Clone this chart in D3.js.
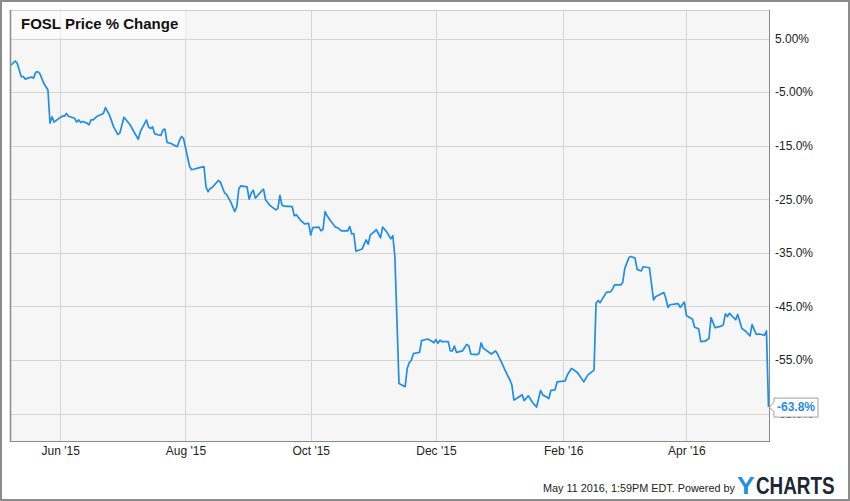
<!DOCTYPE html>
<html><head><meta charset="utf-8">
<script src="https://cdn.jsdelivr.net/npm/d3@7"></script>
<style>body{margin:0;background:#fff}svg{display:block}text{font-family:"Liberation Sans",Arial,sans-serif}</style>
</head><body><svg id="c" width="850" height="501"></svg>
<script>
const dates = [
"2015-05-08","2015-05-10","2015-05-11","2015-05-13","2015-05-14","2015-05-15","2015-05-16","2015-05-18","2015-05-19","2015-05-20",
"2015-05-21","2015-05-22","2015-05-24","2015-05-26","2015-05-27","2015-05-28","2015-05-29","2015-05-31","2015-06-02","2015-06-03",
"2015-06-04","2015-06-05","2015-06-08","2015-06-09","2015-06-10","2015-06-11","2015-06-12","2015-06-14","2015-06-15","2015-06-16",
"2015-06-17","2015-06-19","2015-06-22","2015-06-23","2015-06-25","2015-06-27","2015-06-29","2015-06-30","2015-07-02","2015-07-05",
"2015-07-07","2015-07-09","2015-07-10","2015-07-13","2015-07-14","2015-07-15","2015-07-16","2015-07-17","2015-07-20","2015-07-21",
"2015-07-22","2015-07-23","2015-07-25","2015-07-27","2015-07-28","2015-07-29","2015-07-30","2015-07-31","2015-08-03","2015-08-04",
"2015-08-05","2015-08-07","2015-08-10","2015-08-11","2015-08-12","2015-08-13","2015-08-14","2015-08-17","2015-08-18","2015-08-20",
"2015-08-21","2015-08-23","2015-08-25","2015-08-26","2015-08-27","2015-08-28","2015-08-31","2015-09-01","2015-09-02","2015-09-03",
"2015-09-04","2015-09-08","2015-09-09","2015-09-11","2015-09-14","2015-09-15","2015-09-16","2015-09-17","2015-09-18","2015-09-22",
"2015-09-23","2015-09-24","2015-09-26","2015-09-28","2015-09-30","2015-10-01","2015-10-02","2015-10-05","2015-10-06","2015-10-07",
"2015-10-08","2015-10-09","2015-10-11","2015-10-13","2015-10-14","2015-10-16","2015-10-19","2015-10-20","2015-10-21","2015-10-22",
"2015-10-23","2015-10-26","2015-10-28","2015-10-29","2015-10-30","2015-11-02","2015-11-04","2015-11-05","2015-11-07","2015-11-09",
"2015-11-10","2015-11-11","2015-11-13","2015-11-16","2015-11-17","2015-11-18","2015-11-19","2015-11-20","2015-11-23","2015-11-24",
"2015-11-27","2015-11-29","2015-11-30","2015-12-01","2015-12-02","2015-12-03","2015-12-04","2015-12-07","2015-12-08","2015-12-09",
"2015-12-10","2015-12-11","2015-12-14","2015-12-16","2015-12-17","2015-12-18","2015-12-21","2015-12-22","2015-12-23","2015-12-24",
"2015-12-28","2015-12-30","2015-12-31","2016-01-02","2016-01-04","2016-01-06","2016-01-07","2016-01-08","2016-01-10","2016-01-12",
"2016-01-13","2016-01-15","2016-01-17","2016-01-19","2016-01-21","2016-01-22","2016-01-25","2016-01-26","2016-01-28","2016-01-29",
"2016-02-02","2016-02-03","2016-02-05","2016-02-06","2016-02-08","2016-02-11","2016-02-13","2016-02-14","2016-02-16","2016-02-17",
"2016-02-18","2016-02-19","2016-02-22","2016-02-24","2016-02-25","2016-02-26","2016-02-29","2016-03-01","2016-03-02","2016-03-04",
"2016-03-05","2016-03-07","2016-03-08","2016-03-10","2016-03-11","2016-03-14","2016-03-16","2016-03-17","2016-03-21","2016-03-22",
"2016-03-23","2016-03-24","2016-03-28","2016-03-29","2016-03-31","2016-04-01","2016-04-04","2016-04-05","2016-04-07","2016-04-08",
"2016-04-10","2016-04-12","2016-04-13","2016-04-15","2016-04-18","2016-04-19","2016-04-20","2016-04-21","2016-04-22","2016-04-25",
"2016-04-26","2016-04-28","2016-04-30","2016-05-02","2016-05-03","2016-05-05","2016-05-07","2016-05-09","2016-05-10","2016-05-11"];
const pctChange = [
0.0,0.8,0.4,-2.1,-2.1,-2.6,-2.4,-2.2,-2.4,-1.3,
-1.2,-1.5,-3.4,-4.6,-10.8,-9.6,-10.6,-10.0,-9.5,-9.5,
-9.0,-9.5,-9.9,-10.6,-10.2,-10.7,-10.5,-10.8,-11.1,-10.2,
-10.2,-9.5,-9.0,-7.9,-9.3,-11.5,-12.9,-12.7,-9.7,-11.1,
-12.5,-13.8,-12.4,-10.2,-11.5,-11.8,-11.5,-12.8,-13.1,-12.1,
-11.9,-14.4,-14.6,-15.0,-15.2,-14.1,-13.3,-13.6,-18.9,-19.5,
-19.4,-19.2,-18.9,-22.7,-23.6,-23.0,-22.8,-21.5,-21.8,-23.8,
-24.1,-25.5,-27.3,-26.4,-23.0,-22.5,-22.7,-25.0,-23.9,-23.3,
-24.8,-23.1,-25.1,-26.1,-27.0,-26.7,-24.3,-26.1,-26.3,-26.4,
-28.1,-27.9,-28.9,-29.6,-29.5,-31.7,-30.3,-30.2,-30.9,-30.6,
-27.3,-28.1,-29.2,-30.2,-30.3,-30.9,-30.9,-30.1,-31.5,-31.4,
-34.7,-34.3,-32.6,-33.4,-31.7,-30.7,-32.2,-30.2,-31.1,-32.4,
-31.8,-35.7,-59.4,-60.0,-56.6,-55.5,-55.1,-53.8,-53.6,-51.4,
-51.1,-51.5,-51.8,-51.2,-51.9,-51.3,-51.6,-51.6,-53.3,-53.3,
-52.4,-53.6,-53.3,-52.1,-52.4,-53.9,-54.0,-53.8,-51.8,-52.8,
-53.9,-53.3,-53.9,-55.5,-57.2,-58.7,-59.7,-62.5,-62.0,-61.5,
-62.6,-61.7,-62.9,-63.8,-60.7,-61.5,-62.2,-60.7,-60.6,-59.1,
-58.9,-57.8,-56.6,-56.8,-57.4,-59.1,-57.8,-57.5,-56.9,-44.4,
-43.9,-44.3,-42.4,-42.3,-41.8,-41.0,-41.0,-40.5,-37.9,-35.9,
-35.7,-36.0,-38.1,-38.4,-37.6,-37.8,-43.8,-43.2,-42.4,-43.5,
-45.2,-44.7,-44.5,-45.2,-44.2,-46.7,-47.4,-48.9,-49.2,-51.6,
-51.5,-51.0,-47.1,-49.0,-48.7,-48.4,-46.4,-46.9,-46.3,-47.5,
-46.5,-49.1,-49.7,-50.5,-48.4,-50.2,-50.2,-50.4,-49.6,-63.8];
const yTicks = [5,-5,-15,-25,-35,-45,-55,-65];
const yTickLabels = ["5.00%","-5.00%","-15.0%","-25.0%","-35.0%","-45.0%","-55.0%","-65.0%"];
const xTickDates = ["2015-06-01","2015-08-01","2015-10-01","2015-12-01","2016-02-01","2016-04-01"];
const xTickLabels = ["Jun '15","Aug '15","Oct '15","Dec '15","Feb '16","Apr '16"];
const chartTitle = "FOSL Price % Change";
const lastValueLabel = "-63.8%";
const footerText = "May 11 2016, 1:59PM EDT. Powered by";

const parse = d3.timeParse("%Y-%m-%d");
const data = dates.map((d,i)=>({date:parse(d), v:pctChange[i]}));
const L=10, R=769, T=10, B=441;
const x = d3.scaleTime().domain([parse("2015-05-08"), parse("2016-05-11")]).range([11, 768.5]);
const y = d3.scaleLinear().domain([-65, 5]).range([413.5, 38.5]);
const svg = d3.select("#c");
const blue = "#1f8ee8";

svg.append("rect").attr("x",1).attr("y",1).attr("width",848).attr("height",499)
  .attr("fill","#fff").attr("stroke","#8c8c8c").attr("stroke-width",2);
svg.append("rect").attr("x",L).attr("y",T).attr("width",R-L).attr("height",B-T).attr("fill","#f6f6f6");

// grid
svg.append("g").selectAll("line").data(yTicks).join("line")
  .attr("x1",L).attr("x2",R).attr("y1",d=>Math.round(y(d))+0.5).attr("y2",d=>Math.round(y(d))+0.5)
  .attr("stroke","#d5d5d5").attr("stroke-width",1);
svg.append("g").selectAll("line").data(xTickDates).join("line")
  .attr("y1",T).attr("y2",B).attr("x1",d=>Math.round(x(parse(d)))+0.5).attr("x2",d=>Math.round(x(parse(d)))+0.5)
  .attr("stroke","#d5d5d5").attr("stroke-width",1);

// title box
svg.append("rect").attr("x",L+1).attr("y",T+1).attr("width",175).attr("height",27)
  .attr("fill","#ffffff").attr("opacity",0.55);
svg.append("text").attr("x",21).attr("y",29).attr("font-size",15).attr("font-weight","bold")
  .attr("fill","#111").text(chartTitle);

// line
svg.append("clipPath").attr("id","clip").append("rect").attr("x",L).attr("y",T).attr("width",R-L+1).attr("height",B-T);
const line = d3.line().x(d=>x(d.date)).y(d=>y(d.v));
svg.append("path").datum(data).attr("d",line).attr("fill","none").attr("stroke",blue)
  .attr("stroke-width",1.7).attr("stroke-linejoin","round").attr("clip-path","url(#clip)");

// border
svg.append("line").attr("x1",L).attr("x2",R).attr("y1",T+0.5).attr("y2",T+0.5).attr("stroke","#cfcfcf");
svg.append("line").attr("x1",L+0.5).attr("x2",L+0.5).attr("y1",T).attr("y2",B+1).attr("stroke","#8a8a8a").attr("stroke-width",1.5);
svg.append("line").attr("x1",R+0.5).attr("x2",R+0.5).attr("y1",T).attr("y2",B+1).attr("stroke","#8a8a8a");
svg.append("line").attr("x1",L).attr("x2",R+1).attr("y1",B+0.5).attr("y2",B+0.5).attr("stroke","#8a8a8a");

// axes
const yAxis = d3.axisRight(y).tickValues(yTicks).tickFormat((d,i)=>yTickLabels[i]).tickSize(0).tickPadding(6);
const gy = svg.append("g").attr("transform",`translate(${R},0)`).call(yAxis);
gy.select(".domain").remove();
gy.selectAll("text").attr("font-size",12).attr("fill","#222").style("font-family","'Liberation Sans',Arial,sans-serif");

const xAxis = d3.axisBottom(x).tickValues(xTickDates.map(parse)).tickFormat((d,i)=>xTickLabels[i]).tickSize(0).tickPadding(5);
const gx = svg.append("g").attr("transform",`translate(0,${B})`).call(xAxis);
gx.select(".domain").remove();
gx.selectAll("text").attr("font-size",12).attr("fill","#222").style("font-family","'Liberation Sans',Arial,sans-serif");

// last value callout
const last = data[data.length-1];
const lx = x(last.date), ly = y(last.v);
const bx = 774, bw = 44, bh = 19, by = ly - 9;
svg.append("path")
  .attr("d",`M${lx+1},${ly} L${bx},${ly-5} L${bx},${by} L${bx+bw},${by} L${bx+bw},${by+bh} L${bx},${by+bh} L${bx},${ly+5} Z`)
  .attr("fill","#fff").attr("stroke","#a0a0a0").attr("stroke-width",1);
svg.append("text").attr("x",bx+bw/2).attr("y",ly).attr("dy","0.36em").attr("text-anchor","middle")
  .attr("font-size",12).attr("font-weight","bold").attr("fill",blue).text(lastValueLabel);

// footer
svg.append("text").attr("x",543).attr("y",492).attr("font-size",11).attr("fill","#222")
  .attr("textLength",192).attr("lengthAdjust","spacingAndGlyphs").text(footerText);
svg.append("text").attr("transform","translate(737,494) scale(1.15,1)").attr("font-size",23).attr("font-weight","bold")
  .attr("fill","#1f8fe6").text("Y");
svg.append("text").attr("transform","translate(756,494) scale(0.82,1)").attr("font-size",23).attr("font-weight","bold")
  .attr("fill","#1b2735").text("CHARTS");
</script></body></html>
